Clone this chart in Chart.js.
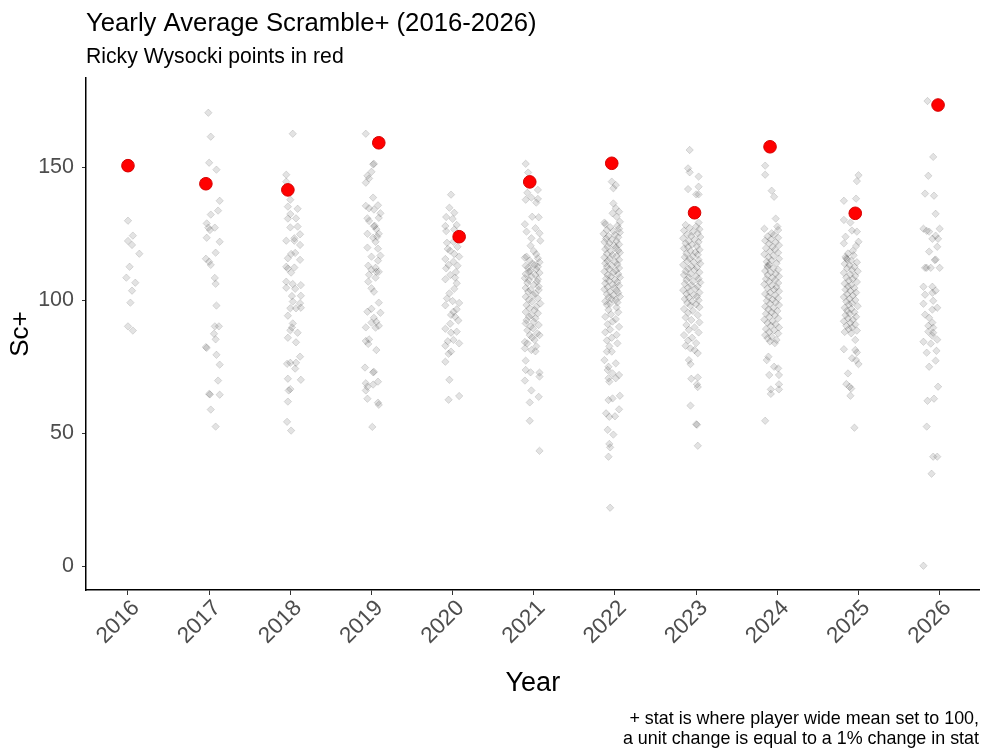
<!DOCTYPE html>
<html>
<head>
<meta charset="utf-8">
<script src="https://cdn.jsdelivr.net/npm/chart.js@4.4.0/dist/chart.umd.min.js"></script>
<style>
  html, body { margin: 0; padding: 0; background: #fff; }
  #wrap { width: 987px; height: 754px; }
</style>
</head>
<body>
<div id="wrap"><canvas id="sc" width="987" height="754"></canvas></div>
<script>
// categories and tick labels
const years = [2016, 2017, 2018, 2019, 2020, 2021, 2022, 2023, 2024, 2025, 2026];
const yTicks = [0, 50, 100, 150];

// Ricky Wysocki, one point per year (value, jitter)
const rickyValues = [150.5, 143.7, 141.4, 159.1, 123.8, 144.4, 151.4, 132.8, 157.6, 132.6, 173.3];
const rickyJitter = [0, -0.04, -0.03, 0.09, 0.08, -0.05, -0.04, -0.02, -0.09, -0.04, -0.02];

// every other player, [Sc+, jitter] per point
const sc2016 = [[129.8,0],[124.2,0.06],[122.2,0],[120.7,0.05],[117.4,0.14],[112.5,0.02],[108.4,-0.02],[106.5,0.09],[103.5,0.05],[99,0.03],[90.1,0],[88.5,0.06]];
const sc2017 = [[170.4,-0.01],[161.4,0.02],[151.6,0],[149,0.09],[137.3,0.13],[133.6,0.11],[132.1,0.02],[128.8,-0.03],[127.2,-0.01],[126.3,0.01],[127.2,0.07],[123.4,-0.03],[121.9,0.13],[117.8,0.08],[115.5,-0.04],[114.4,0],[113.2,0.02],[108.3,0.07],[106.1,0.08],[97.9,0.09],[90.1,0.07],[90.1,0.12],[87.3,0.06],[85.2,0.08],[82.3,-0.04],[82,-0.03],[79.4,0.09],[75.7,0.13],[69.7,0.11],[64.7,0],[64.5,0.01],[64.4,0.13],[58.8,0.02],[52.4,0.08]];
const sc2018 = [[162.5,0.03],[147.1,-0.05],[144.5,-0.05],[137.7,0],[135.1,-0.03],[134.3,0.09],[132.3,0],[130.6,-0.03],[130.7,0.07],[127.3,0],[127.6,0.09],[124.7,0.12],[122.3,-0.05],[123.2,0.05],[122.3,0.05],[120.7,0.12],[117.3,0.01],[115.7,-0.03],[117.7,0.06],[115.1,0.12],[112.5,-0.05],[111.8,-0.03],[112.2,0.05],[110.3,0.01],[106.9,-0.05],[106,0.03],[105.6,0.13],[104.6,-0.05],[104.2,0.06],[101.5,0.02],[101.6,0.13],[99.4,0.03],[98.8,0.12],[96.9,0],[96.9,0.07],[97.1,0.13],[94.1,-0.03],[91.2,0.03],[89.7,0.02],[88.6,0],[87.7,0.09],[85.8,-0.03],[84.1,0.07],[78.7,0.12],[76,-0.04],[76.4,0],[76.4,0.07],[74.2,0.06],[70.4,-0.03],[70,0.13],[66.5,0],[66,-0.02],[61.8,-0.03],[54.2,-0.04],[50.9,0.01]];
const sc2019 = [[162.5,-0.07],[151.2,0.03],[151,0.02],[148.2,0],[146.7,-0.05],[145.7,-0.03],[144.1,-0.07],[138.5,0.02],[135.4,-0.07],[135.6,0.08],[134.5,-0.03],[134,0.03],[132.6,0.11],[130.9,0.09],[130.7,-0.05],[129.7,-0.03],[127.7,0.03],[127.9,0.04],[126.6,0.06],[124.9,-0.05],[124.9,0.09],[123.4,0.02],[123.8,0.07],[121.9,0.05],[119.7,-0.05],[119.3,0.08],[116.7,0.11],[116.3,0],[114.8,0.08],[112.9,-0.04],[112.1,0.05],[111.4,0],[110.6,0.06],[110.6,0.09],[109.5,-0.03],[108.4,0.05],[106.9,-0.04],[104.4,0],[103.1,0.03],[99,0.09],[95.6,-0.05],[96.7,0],[95.2,0.11],[93.3,0.03],[91.5,0],[91.8,0.06],[90.3,0.09],[89.7,-0.07],[89.6,0.05],[85.2,-0.03],[84.6,-0.07],[83.5,-0.04],[81.2,0.06],[74.6,-0.08],[73,0.03],[72.8,0.02],[69.3,0.08],[68.2,0.02],[68.7,-0.07],[67.4,-0.05],[66,-0.07],[62.9,-0.05],[61.4,0.08],[60.6,0.09],[52.3,0.01]];
const sc2020 = [[139.6,-0.02],[134.7,-0.04],[132.8,0.02],[131.2,-0.08],[130.5,0],[128.2,0.05],[127.8,-0.09],[126.5,0.02],[125.9,-0.08],[121.5,-0.07],[121.9,0.01],[120,0.06],[119.2,-0.06],[118.5,-0.03],[117.3,0.02],[116.3,0.08],[115.4,-0.09],[114.4,0.01],[112.9,0.06],[111.9,-0.08],[113.2,-0.05],[110.5,0.04],[109.4,-0.03],[108.4,0.03],[107.8,-0.09],[106.3,0.05],[104.2,0.02],[102.5,-0.04],[100.6,-0.07],[99.6,0],[98.9,0.08],[98,-0.09],[96.5,0.05],[95.6,0.01],[94.4,-0.02],[93.7,0.03],[92.3,0.07],[91.1,-0.03],[89.2,-0.09],[87.7,-0.02],[88.1,0.05],[85,0.01],[84.5,-0.06],[83.7,0.08],[82.8,-0.09],[80.6,-0.02],[79.8,-0.05],[76.8,-0.09],[70,-0.04],[62.5,-0.05],[63.9,0.08]];
const sc2021 = [[151.2,-0.1],[147.9,-0.07],[140.3,-0.08],[141.4,0.05],[137.7,-0.1],[138.5,-0.03],[138,0.05],[136.6,0.03],[131.3,-0.02],[131.1,0.06],[128.5,-0.11],[125.7,-0.09],[127,0.02],[125.1,0.07],[123.2,-0.03],[122.3,0.08],[120.4,-0.04],
  [118.4,0],[117.2,0.03],[116.3,-0.09],[115.9,-0.11],[115.7,0.05],[114.8,-0.05],[114.2,0.07],[113.6,-0.02],[113.2,0.01],[112.9,-0.1],[112.5,0.05],[112.1,-0.07],[111.6,0.03],[111,-0.04],[110.6,-0.06],[110.2,0.07],[109.8,-0.1],[109.4,0.02],[108.9,-0.03],[108.2,-0.11],[107.8,0.05],[107.5,-0.06],[106.9,0.04],[106.4,-0.08],[105.7,0],[105.1,0.06],[104.5,-0.1],[103.8,-0.04],[103.8,0.06],[103.1,-0.07],[102.4,0.02],[101.9,-0.01],[101.2,-0.1],[100.6,0.05],[100.1,-0.06],[99.4,-0.02],[98.7,0.08],[98.1,-0.09],[97.5,0.03],[96.9,-0.05],[96.2,0.01],[95.5,-0.1],[95,0.05],[94.3,-0.03],[93.7,-0.06],[93.1,0.02],[92.4,-0.09],[91.8,0],[91.2,-0.1],[90.6,0.06],[90,-0.04],[89.4,-0.01],[88.6,-0.08],[87.5,0.04],[86.8,-0.05],[86.8,0.07],[85.9,-0.02],[85,0.01],[84.2,-0.11],[83.7,-0.08],[82.6,0.03],[81.8,-0.11],[81.2,-0.03],[80.7,0.02],
  [77.2,-0.1],[73.7,-0.1],[72.8,-0.04],[72.7,0.07],[71.2,0.07],[69.7,-0.11],[66,-0.03],[63.6,0.06],[61.5,-0.05],[54.6,-0.05],[43.3,0.07]];
const sc2022 = [[144.5,-0.04],[143.2,0.01],[142,-0.02],[136.3,-0.02],[134.5,0.01],[133.2,0.05],[132.6,-0.03],[131.3,0.02],[129.4,0.06],[129.1,-0.13],
  [128.5,-0.12],[127.9,0.03],[127.4,-0.06],[126.8,0.05],[126.3,-0.1],[125.9,-0.02],[125.4,0.06],[124.9,-0.14],[124.5,0],[124,-0.08],[123.6,0.04],[123.1,-0.11],[122.7,-0.04],[122.2,0.02],[121.8,-0.13],[121.4,-0.07],[120.9,0.05],[120.5,-0.01],[120,-0.09],[119.6,0.01],[119.1,-0.12],[118.7,0.04],[118.3,-0.05],[117.8,0.06],[117.4,-0.1],[116.9,-0.03],[116.5,0.02],[116,-0.13],[115.6,-0.06],[115.1,0.05],[114.7,-0.09],[114.3,0],[113.8,-0.12],[113.4,0.03],[112.9,-0.04],[112.5,-0.1],[112,0.05],[111.6,-0.07],[111.1,0.01],[110.7,-0.13],[110.3,-0.02],[109.8,0.04],[109.4,-0.09],[108.9,-0.05],[108.5,0.06],[108,-0.11],[107.6,0],[107.2,-0.07],[106.7,0.03],[106.3,-0.12],[105.8,-0.03],[105.4,0.05],[104.9,-0.09],[104.5,-0.01],[104,-0.13],[103.6,0.02],[103.1,-0.06],[102.7,0.04],[102.2,-0.1],[101.8,-0.02],[101.3,0.06],[100.9,-0.08],[100.4,-0.04],[100,0.01],[99.5,-0.12],[99.1,0.03],[98.6,-0.06],[98.2,-0.1],[97.2,0.02],[96.3,-0.08],[95.4,0.04],[94.6,-0.05],[93.7,-0.12],[92.8,0.01],[91.9,-0.03],[90.9,-0.09],[89.9,0.05],[88.9,-0.06],[87.9,-0.12],[86.9,0.02],[85.8,-0.04],[84.8,-0.1],[83.7,0.03],[82.6,-0.07],
  [80.6,-0.1],[80.6,-0.04],[77.4,-0.13],[76.2,0.01],[74.9,-0.08],[73.7,-0.09],[72.4,-0.03],[71.8,0.05],[70.6,-0.08],[70.6,0.01],[69.3,-0.07],[64,0.06],[63,-0.03],[62.4,-0.08],[58.9,0.05],[57.4,-0.11],[56.1,-0.07],[56.3,0],[51.2,-0.09],[49.4,-0.02],[45.9,-0.07],[44.6,-0.06],[41.1,-0.08],[21.9,-0.06]];
const sc2023 = [[156.4,-0.08],[149.5,-0.1],[148,-0.08],[146.4,0.03],[141.7,-0.1],[142.6,0.03],[139.7,0],[139.7,0.03],[129.1,0.03],
  [128.2,-0.13],[127.6,0],[127.1,-0.08],[126.6,0.04],[126.1,-0.15],[125.6,-0.04],[125.1,0.02],[124.6,-0.11],[124.1,-0.06],[123.7,0.05],[123.2,-0.16],[122.7,-0.02],[122.2,-0.09],[121.8,0.03],[121.3,-0.13],[120.8,-0.05],[120.3,0.01],[119.9,-0.1],[119.4,-0.15],[118.9,0.04],[118.4,-0.07],[118,-0.01],[117.5,-0.12],[117,0.02],[116.5,-0.04],[116.1,-0.14],[115.6,-0.08],[115.1,0.03],[114.6,-0.11],[114.2,-0.03],[113.7,0.05],[113.2,-0.16],[112.7,-0.06],[112.3,0.01],[111.8,-0.1],[111.3,-0.02],[110.8,-0.13],[110.4,0.04],[109.9,-0.07],[109.4,-0.15],[108.9,0],[108.5,-0.09],[108,0.03],[107.5,-0.12],[107,-0.04],[106.6,0.05],[106.1,-0.14],[105.6,-0.06],[105.1,0.02],[104.7,-0.1],[104.2,-0.01],[103.7,-0.16],[103.2,-0.08],[102.8,0.04],[102.3,-0.12],[101.8,-0.03],[101.3,0.01],[100.9,-0.09],[100.4,-0.14],[99.9,0.03],[99.4,-0.05],[98.9,-0.11],[98.4,0],[97.9,-0.07],[97.3,0.04],[96.6,-0.15],[95.9,-0.04],[95.2,-0.1],[94.3,0.02],[93.4,-0.13],[92.5,-0.06],[91.6,0.04],[90.6,-0.12],[89.7,-0.02],[88.8,-0.09],[87.8,0.03],[86.8,-0.15],[85.8,-0.05],[84.8,-0.1],[83.8,0],[82.8,-0.13],[81.8,-0.07],[81.2,-0.02],
  [80,0.02],[77.4,-0.09],[75.9,-0.07],[70.4,-0.06],[70.9,0.02],[68.3,0.01],[67.3,0.02],[60.3,-0.07],[53.3,0],[53.1,0.01],[45.2,0.02]];
const sc2024 = [[150.5,-0.15],[147.1,-0.15],[141.1,-0.07],[138.8,-0.04],[130.6,-0.02],[126.8,-0.16],[127.6,0],[126.3,0.01],[125.1,-0.07],
  [124.5,-0.04],[123.9,-0.12],[123.4,0.01],[122.8,-0.08],[122.3,-0.15],[121.7,-0.02],[121.2,-0.1],[120.6,0.02],[120,-0.06],[119.5,-0.14],[118.9,-0.03],[118.3,-0.09],[117.8,0.01],[117.2,-0.16],[116.6,-0.05],[116.1,-0.11],[115.5,0.02],[114.9,-0.07],[114.4,-0.13],[113.8,-0.01],[113.3,-0.1],[112.9,-0.12],[112.4,-0.12],[111.9,-0.05],[111.4,0.01],[110.9,-0.15],[110.4,-0.08],[109.9,-0.02],[109.4,-0.12],[108.9,0.02],[108.4,-0.06],[107.9,-0.14],[107.4,-0.03],[106.9,-0.1],[106.4,0.01],[105.9,-0.16],[105.4,-0.07],[104.9,-0.01],[104.4,-0.12],[103.9,-0.04],[103.3,0.02],[102.8,-0.09],[102.3,-0.15],[101.8,-0.03],[101.2,-0.11],[100.7,0.01],[100.2,-0.06],[99.7,-0.13],[99.1,-0.02],[98.6,-0.09],[98.1,0.02],[97.5,-0.15],[97,-0.05],[96.5,-0.11],[95.9,0],[95.4,-0.07],[94.8,-0.14],[94.3,-0.03],[93.7,-0.1],[93.1,0.01],[92.6,-0.16],[92,-0.06],[91.4,-0.12],[90.9,-0.02],[90.3,-0.08],[89.7,0.02],[89.1,-0.14],[88.6,-0.04],[88,-0.1],[87.4,0.01],[86.8,-0.15],[86.2,-0.07],[85.6,-0.12],[85,-0.01],[84.4,-0.09],[83.8,-0.03],
  [78.7,-0.11],[77.4,-0.13],[74.9,-0.04],[74.3,0.01],[71.8,-0.1],[71.8,0.02],[68.3,0.02],[66.4,-0.08],[66.4,0.02],[64.7,-0.08],[54.6,-0.15]];
const sc2025 = [[146.9,0],[144.7,-0.02],[137.3,-0.18],[138.1,-0.03],[130.1,-0.18],[129.1,-0.1],[126.1,-0.08],[125.7,-0.02],[123.8,-0.16],[121.3,-0.18],[121.9,0],[120.3,-0.03],[118.5,-0.07],
  [117.5,-0.13],[116.8,-0.06],[116.2,-0.16],[115.6,-0.15],[115.3,-0.14],[114.8,-0.09],[114.2,-0.02],[113.6,-0.17],[113.1,-0.11],[112.5,-0.05],[111.9,-0.14],[111.3,-0.08],[110.8,-0.01],[110.2,-0.18],[109.6,-0.1],[109.1,-0.04],[108.5,-0.15],[107.9,-0.07],[107.3,-0.12],[106.8,-0.02],[106.2,-0.17],[105.6,-0.09],[105.1,-0.13],[104.5,-0.05],[103.9,-0.16],[103.4,-0.1],[102.8,-0.03],[102.2,-0.14],[101.7,-0.07],[101.1,-0.18],[100.5,-0.11],[100,-0.04],[99.4,-0.15],[98.8,-0.08],[98.3,-0.12],[97.7,-0.01],[97.1,-0.17],[96.6,-0.09],[96,-0.14],[95.4,-0.05],[94.9,-0.11],[94.3,-0.16],[93.7,-0.03],[93.1,-0.13],[92.6,-0.07],[92,-0.18],[91.4,-0.1],[90.8,-0.04],[90.3,-0.15],[89.7,-0.08],[89.1,-0.12],[88.5,-0.02],[88,-0.17],[87.5,-0.09],
  [85,-0.04],[81.5,-0.18],[81.2,-0.04],[80.3,-0.02],[78.1,-0.08],[77.4,-0.03],[75.9,0],[72.4,-0.13],[68.4,-0.15],[67.4,-0.11],[66.7,-0.09],[64,-0.1],[52,-0.05]];
const sc2026 = [[174.8,-0.15],[153.8,-0.08],[146.7,-0.14],[140,-0.18],[139.2,-0.07],[132.4,-0.05],[126.8,-0.2],[126,-0.16],[125.7,-0.13],[126.8,0],[123,-0.09],[124.2,-0.05],[123,-0.02],[120,-0.03],[118.2,-0.13],[115.2,-0.05],[115,-0.06],[112.1,-0.18],[112.1,-0.16],[112.1,-0.11],[112.1,0],[105,-0.2],[105,-0.09],[103.5,-0.05],[102.7,-0.09],[102,-0.18],[99.7,-0.08],[98.6,-0.2],[96.4,-0.09],[97.1,-0.03],[94.5,-0.18],[93.3,-0.13],[91.5,-0.09],[90.3,-0.14],[89.6,-0.08],[88.1,-0.14],[87.7,-0.08],[85.1,-0.03],[86.6,-0.09],[84.3,-0.2],[83.6,-0.11],[80.9,-0.04],[80.2,-0.16],[77.2,-0.05],[74.9,-0.13],[67.4,-0.02],[62.9,-0.07],[62.1,-0.15],[52.4,-0.16],[41.1,-0.08],[41.1,-0.03],[34.7,-0.1],[0.1,-0.2]];

const othersByYear = [sc2016, sc2017, sc2018, sc2019, sc2020, sc2021, sc2022, sc2023, sc2024, sc2025, sc2026];

const greyPoints = [];
othersByYear.forEach(function(pts, i){
    pts.forEach(function(p){ greyPoints.push({x: years[i] + p[1], y: p[0]}); });
});
const redPoints = years.map(function(yr, i){ return {x: yr + rickyJitter[i], y: rickyValues[i]}; });

const FONT = "'Liberation Sans', Arial, sans-serif";

// title, subtitle and caption written straight onto the canvas
const textPlugin = {
    id: 'texts',
    afterDraw(chart){
        const ctx = chart.ctx;
        const left = chart.chartArea.left;
        ctx.save();
        ctx.fillStyle = '#000';
        ctx.textBaseline = 'alphabetic';
        ctx.textAlign = 'left';
        ctx.font = '25.7px ' + FONT;
        ctx.fillText('Yearly Average Scramble+ (2016-2026)', left, 31);
        ctx.font = '21.2px ' + FONT;
        ctx.fillText('Ricky Wysocki points in red', left, 63);
        ctx.textAlign = 'right';
        ctx.font = '17.9px ' + FONT;
        ctx.fillText('+ stat is where player wide mean set to 100,', 979, 724);
        ctx.fillText('a unit change is equal to a 1% change in stat', 979, 744);
        ctx.restore();
    }
};

window.onload = function(){
    let kaart = document.getElementById('sc').getContext('2d');
    new Chart(kaart, {
    type: 'scatter',
    data: {
        datasets: [{
            label: 'Ricky Wysocki',
            data: redPoints,
            pointStyle: 'circle',
            radius: 6.3,
            backgroundColor: '#ff0000',
            borderColor: '#d40000',
            borderWidth: 1
        }, {
            label: 'Players',
            data: greyPoints,
            pointStyle: 'rectRot',
            radius: 3.7,
            backgroundColor: 'rgba(0, 0, 0, 0.11)',
            borderColor: 'rgba(0, 0, 0, 0.16)',
            borderWidth: 0.8
        }]
    },
    options: {
        responsive: false,
        animation: false,
        devicePixelRatio: 1,
        layout: { padding: { top: 78, right: 7, bottom: 54, left: 0 } },
        plugins: { legend: { display: false }, tooltip: { enabled: false } },
        scales: {
            x: {
                type: 'linear',
                min: 2015.483,
                max: 2026.493,
                afterBuildTicks: function(s){ s.ticks = years.map(function(v){ return {value: v}; }); },
                afterFit: function(s){ s.height = 110; },
                ticks: {
                    autoSkip: false,
                    minRotation: 45,
                    maxRotation: 45,
                    padding: 0,
                    labelOffset: 8,
                    color: '#4d4d4d',
                    font: { family: FONT, size: 22.5 },
                    callback: function(v){ return String(v); }
                },
                grid: { display: true, drawOnChartArea: false, drawTicks: true, tickLength: 5, color: '#333', lineWidth: 1 },
                border: { display: true, color: '#000', width: 1.5 },
                title: { display: true, text: 'Year', color: '#000', font: { family: FONT, size: 27 }, padding: { top: 0, bottom: 0 } }
            },
            y: {
                min: -9.02,
                max: 183.46,
                afterBuildTicks: function(s){ s.ticks = yTicks.map(function(v){ return {value: v}; }); },
                afterFit: function(s){ s.width = 86; },
                ticks: {
                    padding: 8,
                    color: '#4d4d4d',
                    font: { family: FONT, size: 21.5 }
                },
                grid: { display: true, drawOnChartArea: false, drawTicks: true, tickLength: 4, color: '#333', lineWidth: 1 },
                border: { display: true, color: '#000', width: 1.5 },
                title: { display: true, text: 'Sc+', color: '#000', font: { family: FONT, size: 26 }, padding: { top: 5, bottom: 0 } }
            }
        }
    },
    plugins: [textPlugin]
    });
};
</script>
</body>
</html>
